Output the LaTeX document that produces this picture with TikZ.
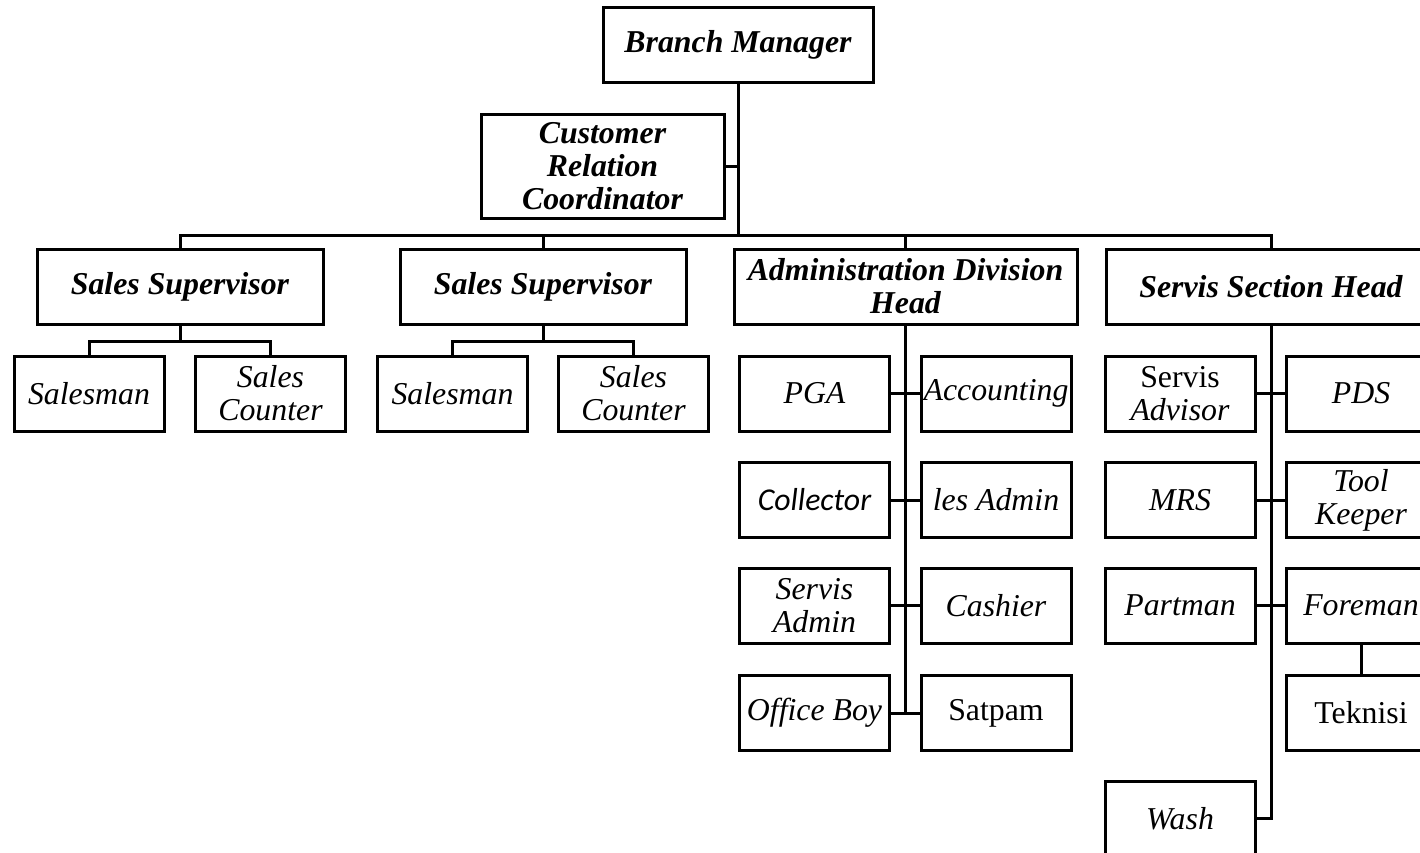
\documentclass[tikz,border=0pt]{standalone}
\usepackage{fontspec}
\setmainfont{Liberation Serif}
\newfontfamily\calibrifont{Carlito}
\begin{document}
\begin{tikzpicture}[x=0.5pt,y=-0.5pt,
    box/.style={draw,line width=1.5pt,inner sep=0pt,align=center,minimum width=75pt,minimum height=37.5pt,font=\fontsize{15.9}{16.5}\selectfont\itshape},
    head/.style={box,minimum width=143pt,font=\fontsize{15.9}{16.5}\selectfont\bfseries\itshape},
    link/.style={line width=1.5pt}]
    \useasboundingbox (0,0) rectangle (1420,852);
    \clip (0,0) rectangle (1420,852);
    % top
    \node[head,minimum width=135pt] (bm) at (738,44.5) {Branch Manager};
    \node[head,minimum width=121.5pt,minimum height=52pt] (crc) at (602.5,166) {Customer\\Relation\\Coordinator};
    \coordinate (bus) at (738,235);
    % heads
    \node[head] (ss1) at (180,286.5) {Sales Supervisor};
    \node[head] (ss2) at (543,286.5) {Sales Supervisor};
    \node[head,minimum width=171.5pt] (adh) at (905.5,286.5) {Administration Division\\Head};
    \node[head,minimum width=165pt] (svh) at (1271,286.5) {Servis Section Head};
    % sales
    \foreach \n/\x/\t in {sm1/89/Salesman,sc1/270.5/Sales\\Counter,sm2/452.5/Salesman,sc2/633.5/Sales\\Counter}
        \node[box] (\n) at (\x,393.5) {\t};
    % administration
    \foreach \r/\y/\a/\b in {1/393.5/PGA/Accounting,2/500/\calibrifont Collector/les Admin,3/605.5/Servis\\Admin/Cashier,4/713/Office Boy/\upshape Satpam}{
        \node[box] (al\r) at (814.5,\y) {\a};
        \node[box] (ar\r) at (996,\y) {\b};
    }
    % servis
    \foreach \r/\y/\a/\b in {1/393.5/\upshape Servis\\Advisor/PDS,2/500/MRS/Tool\\Keeper,3/605.5/Partman/Foreman}{
        \node[box] (sl\r) at (1180,\y) {\a};
        \node[box] (sr\r) at (1361,\y) {\b};
    }
    \node[box,font=\fontsize{15.9}{16.5}\selectfont] (tek) at (1361,713) {Teknisi};
    \node[box] (wash) at (1180,818.5) {Wash};
    % connectors
    \draw[link] (bm.south) -- (bus);
    \draw[link] (crc.east) -- (crc.east-|bus);
    \draw[link] (ss1.north) -- (ss1.north|-bus) -- (svh.north|-bus) -- (svh.north);
    \foreach \h in {ss2,adh} \draw[link] (\h.north) -- (\h.north|-bus);
    \foreach \h/\a/\b in {ss1/sm1/sc1,ss2/sm2/sc2}{
        \coordinate (\h sub) at ([yshift=-8pt]\h.south);
        \draw[link] (\h.south) -- (\h sub);
        \draw[link] (\a.north) |- (\h sub) -| (\b.north);
    }
    \draw[link] (adh.south) -- (adh.south|-al4.east);
    \foreach \r in {1,...,4} \draw[link] (al\r.east) -- (ar\r.west);
    \draw[link] (svh.south) -- (svh.south|-wash.east) -- (wash.east);
    \foreach \r in {1,2,3} \draw[link] (sl\r.east) -- (sr\r.west);
    \draw[link] (sr3.south) -- (tek.north);
\end{tikzpicture}
\end{document}
